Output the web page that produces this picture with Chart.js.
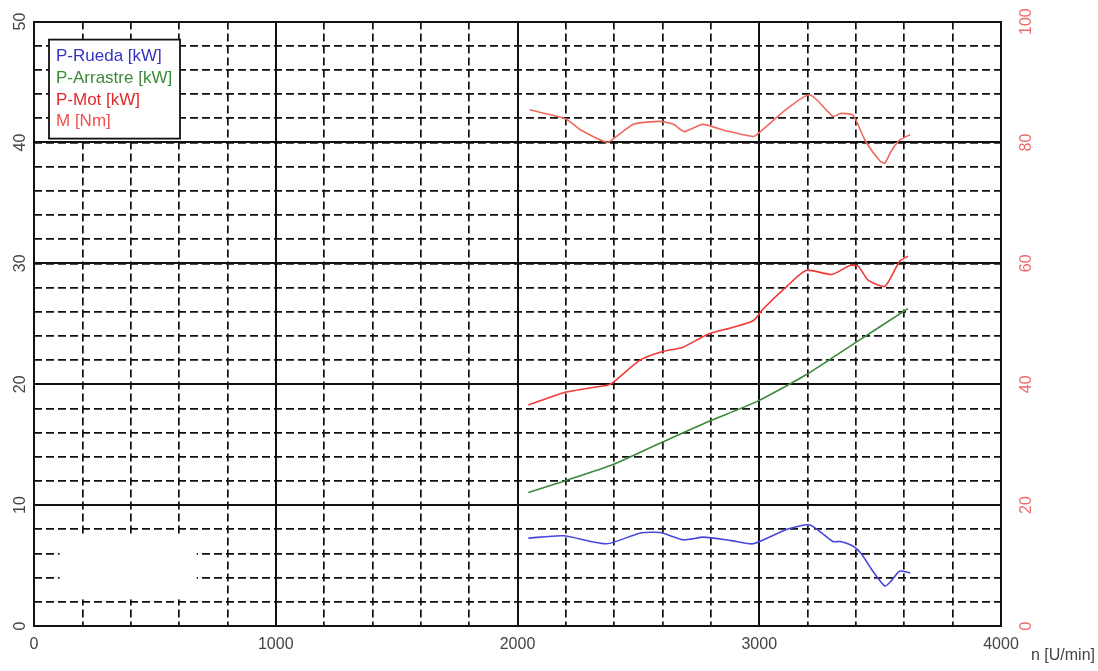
<!DOCTYPE html>
<html>
<head>
<meta charset="utf-8">
<script src="https://cdn.jsdelivr.net/npm/chart.js@4.4.1/dist/chart.umd.min.js"></script>
<style>
  html, body { margin: 0; padding: 0; background: #fff; }
</style>
</head>
<body>
<canvas id="chart" width="1098" height="671"></canvas>
<script>
const rpmRueda = [2045, 2190, 2370, 2505, 2590, 2685, 2770, 2880, 2975, 3115, 3210, 3305, 3335, 3390, 3425, 3470, 3520, 3545, 3580, 3625];
const pRueda   = [7.27, 7.46, 6.8, 7.68, 7.73, 7.13, 7.35, 7.08, 6.8, 8.0, 8.36, 6.99, 6.99, 6.58, 5.9, 4.53, 3.3, 3.71, 4.53, 4.4];

const rpmArrastre = [2045, 2195, 2395, 2600, 2790, 2990, 3190, 3390, 3615];
const pArrastre   = [11.04, 12.0, 13.36, 15.22, 16.92, 18.56, 20.74, 23.34, 26.26];

const rpmMot = [2045, 2195, 2370, 2395, 2505, 2600, 2685, 2790, 2890, 2975, 3015, 3115, 3195, 3300, 3375, 3410, 3450, 3520, 3580, 3615];
const pMot   = [18.28, 19.32, 19.92, 20.14, 21.97, 22.7, 23.07, 24.16, 24.7, 25.25, 26.2, 28.11, 29.43, 29.08, 29.82, 29.76, 28.61, 28.11, 30.16, 30.6];

const rpmM = [2050, 2200, 2260, 2370, 2400, 2480, 2590, 2645, 2690, 2765, 2865, 2975, 3005, 3115, 3210, 3305, 3335, 3385, 3400, 3440, 3500, 3520, 3545, 3580, 3625];
const mNm  = [85.4, 83.9, 82.1, 80.0, 80.7, 83.0, 83.5, 83.0, 81.8, 83.0, 81.9, 81.0, 81.8, 85.6, 87.9, 84.3, 84.8, 84.6, 83.7, 80.2, 76.9, 76.6, 78.5, 80.4, 81.3];

// verdeckter Bereich unten links (rpm / kW)
const blankRpm = [106, 673];
const blankKw = [2.2, 7.4];

const FONT = "'Liberation Sans', Arial, sans-serif";
Chart.defaults.font.family = FONT;

const pts = (xs, ys) => xs.map((v, i) => ({ x: v, y: ys[i] }));
const plain = v => String(v);

const extras = {
  id: 'extras',
  beforeDatasetsDraw(chart) {
    const { ctx, scales: { x, y } } = chart;
    const x0 = x.getPixelForValue(blankRpm[0]), x1 = x.getPixelForValue(blankRpm[1]);
    const y0 = y.getPixelForValue(blankKw[1]), y1 = y.getPixelForValue(blankKw[0]);
    ctx.save();
    ctx.fillStyle = '#fff';
    ctx.fillRect(x0, y0, x1 - x0, y1 - y0);
    ctx.restore();
  },
  afterDatasetsDraw(chart) {
    const { ctx, chartArea } = chart;
    const bx = chartArea.left + 15, by = chartArea.top + 18, bw = 131, bh = 99;
    ctx.save();
    ctx.fillStyle = '#fff';
    ctx.fillRect(bx, by, bw, bh);
    ctx.strokeStyle = '#111';
    ctx.lineWidth = 1.8;
    ctx.strokeRect(bx, by, bw, bh);
    ctx.font = '17px ' + FONT;
    ctx.textBaseline = 'middle';
    chart.data.datasets.forEach((ds, i) => {
      ctx.fillStyle = ds.textColor;
      ctx.fillText(ds.label, bx + 7, by + 17 + i * 21.7);
    });
    ctx.font = '16px ' + FONT;
    ctx.fillStyle = '#444';
    ctx.textAlign = 'right';
    ctx.fillText('n [U/min]', chart.width - 3, chartArea.bottom + 30);
    ctx.restore();
  }
};

new Chart(document.getElementById('chart'), {
  type: 'line',
  data: {
    datasets: [
      { label: 'P-Rueda [kW]', data: pts(rpmRueda, pRueda), borderColor: '#4646dc', textColor: '#3434c4', yAxisID: 'y' },
      { label: 'P-Arrastre [kW]', data: pts(rpmArrastre, pArrastre), borderColor: '#3a8a3a', textColor: '#3a8a3a', yAxisID: 'y' },
      { label: 'P-Mot [kW]', data: pts(rpmMot, pMot), borderColor: '#f53838', textColor: '#e02a2a', yAxisID: 'y' },
      { label: 'M [Nm]', data: pts(rpmM, mNm), borderColor: '#ef6a5c', textColor: '#f05050', yAxisID: 'y2' }
    ]
  },
  options: {
    responsive: false,
    animation: false,
    events: [],
    layout: { padding: { top: 20 } },
    elements: {
      line: { borderWidth: 1.6, tension: 0.2, fill: false },
      point: { radius: 0 }
    },
    plugins: { legend: { display: false }, tooltip: { enabled: false } },
    scales: {
      xMinor: {
        type: 'linear', position: 'bottom', min: 0, max: 4000,
        ticks: { display: false, stepSize: 200 },
        grid: { color: '#111', lineWidth: 1.7, drawTicks: false },
        border: { display: false, dash: [8, 4] },
        afterFit: s => { s.height = 0; }
      },
      x: {
        type: 'linear', position: 'bottom', min: 0, max: 4000,
        ticks: { stepSize: 1000, padding: 9, color: '#444', font: { size: 16 }, callback: plain },
        grid: { color: '#111', lineWidth: 2, drawTicks: false },
        border: { color: '#111', width: 2 },
        afterFit: s => { s.height = 45; }
      },
      yMinor: {
        type: 'linear', position: 'left', min: 0, max: 50,
        ticks: { display: false, stepSize: 2 },
        grid: { color: '#111', lineWidth: 1.7, drawTicks: false },
        border: { display: false, dash: [8, 4] },
        afterFit: s => { s.width = 0; }
      },
      y: {
        type: 'linear', position: 'left', min: 0, max: 50,
        ticks: { stepSize: 10, padding: 5, minRotation: 90, maxRotation: 90, crossAlign: 'center', color: '#444', font: { size: 16 }, callback: plain },
        grid: { color: '#111', lineWidth: 2, drawTicks: false },
        border: { color: '#111', width: 2 },
        afterFit: s => { s.width = 34; }
      },
      y2: {
        type: 'linear', position: 'right', min: 0, max: 100,
        ticks: { stepSize: 20, padding: 12, minRotation: 90, maxRotation: 90, crossAlign: 'center', color: '#f06a6a', font: { size: 16 }, callback: plain },
        grid: { drawOnChartArea: false, drawTicks: false },
        border: { color: '#111', width: 2 },
        afterFit: s => { s.width = 97; }
      }
    }
  },
  plugins: [extras]
});
</script>
</body>
</html>
